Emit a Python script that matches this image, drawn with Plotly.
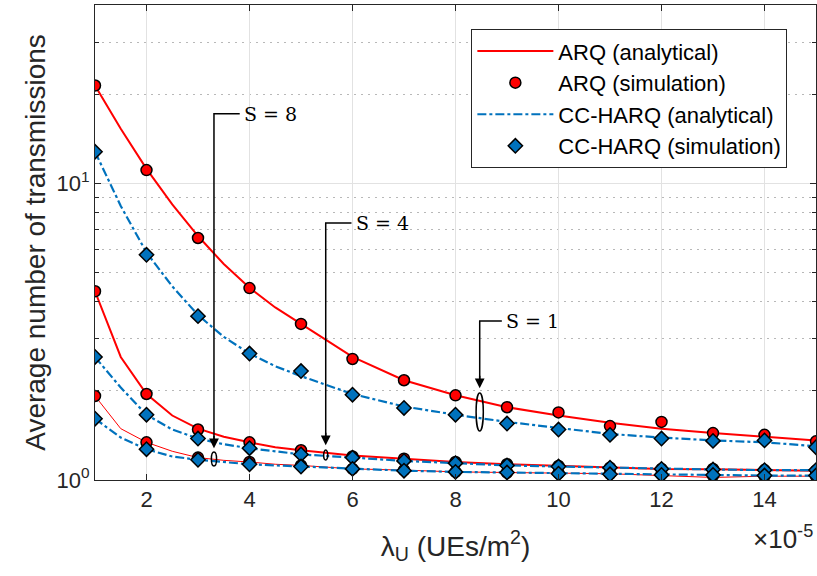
import numpy as np
import plotly.graph_objects as go

# ---------------- data ----------------
x_sim = [1, 2, 3, 4, 5, 6, 7, 8, 9, 10, 11, 12, 13, 14, 15]
x_ana = [1, 1.5, 2, 2.5, 3, 3.5, 4, 4.5, 5, 6, 7, 8, 9, 10, 11, 12, 13, 14, 15]

# ARQ analytical
arq_ana_s8 = [21.4, 15.3, 11.2, 8.5, 6.65, 5.35, 4.45, 3.82, 3.36, 2.6, 2.17, 1.93, 1.76, 1.65, 1.56, 1.49, 1.44, 1.40, 1.36]
arq_ana_s4 = [4.33, 2.6, 1.95, 1.65, 1.49, 1.40, 1.34, 1.29, 1.26, 1.21, 1.18, 1.15, 1.13, 1.115, 1.105, 1.09, 1.088, 1.083, 1.075]
arq_ana_s1 = [1.92, 1.49, 1.34, 1.25, 1.19, 1.165, 1.15, 1.13, 1.12, 1.09, 1.08, 1.065, 1.06, 1.053, 1.05, 1.035, 1.02, 1.03, 1.03]
# ARQ simulation
arq_sim_s8 = [21.4, 11.1, 6.55, 4.44, 3.36, 2.56, 2.17, 1.93, 1.76, 1.69, 1.52, 1.57, 1.44, 1.42, 1.35]
arq_sim_s4 = [4.33, 1.95, 1.48, 1.34, 1.26, 1.20, 1.18, 1.15, 1.13, 1.115, 1.10, 1.09, 1.09, 1.08, 1.075]
arq_sim_s1 = [1.92, 1.34, 1.19, 1.15, 1.12, 1.09, 1.08, 1.065, 1.06, 1.055, 1.05, 1.045, 1.035, 1.03, 1.03]

# CC-HARQ analytical
cc_ana_s8 = [12.8, 8.4, 5.85, 4.5, 3.6, 3.04, 2.67, 2.42, 2.24, 1.95, 1.77, 1.66, 1.57, 1.50, 1.43, 1.39, 1.36, 1.34, 1.30]
cc_ana_s4 = [2.60, 2.05, 1.66, 1.48, 1.38, 1.32, 1.28, 1.25, 1.22, 1.19, 1.16, 1.14, 1.12, 1.11, 1.10, 1.09, 1.085, 1.08, 1.08]
cc_ana_s1 = [1.61, 1.39, 1.27, 1.20, 1.17, 1.15, 1.13, 1.12, 1.11, 1.09, 1.075, 1.065, 1.06, 1.05, 1.045, 1.04, 1.04, 1.035, 1.035]
# CC-HARQ simulation
cc_sim_s8 = [12.8, 5.75, 3.57, 2.67, 2.33, 1.94, 1.75, 1.66, 1.55, 1.48, 1.42, 1.38, 1.355, 1.36, 1.29]
cc_sim_s4 = [2.60, 1.66, 1.38, 1.28, 1.22, 1.19, 1.16, 1.14, 1.12, 1.11, 1.10, 1.09, 1.085, 1.08, 1.08]
cc_sim_s1 = [1.61, 1.27, 1.17, 1.13, 1.11, 1.09, 1.075, 1.065, 1.06, 1.05, 1.045, 1.04, 1.04, 1.035, 1.035]

x_tickvals = [2, 4, 6, 8, 10, 12, 14]
y_tickvals = [1, 10]
y_ticktext = ["10<sup>0</sup>", "10<sup>1</sup>"]
y_minor = [2, 3, 4, 5, 6, 7, 8, 9, 20, 30]
Y_MAX = 40

# S labels: (text, x of vertical line, x of text, y top of elbow, arrow tip y, ellipse y-lo, y-hi, ellipse half width)
s_labels = [
    ("S = 8", 3.31, 3.86, 17.2, 1.28, 1.115, 1.243, 0.05),
    ("S = 4", 5.48, 6.03, 7.36, 1.31, 1.168, 1.262, 0.04),
    ("S = 1", 8.47, 8.95, 3.44, 2.04, 1.463, 1.965, 0.07),
]

RED = "#ff0000"
BLUE = "#0072bd"
AXC = "#262626"
FONT = "Liberation Sans, Arial, sans-serif"

fig = go.Figure()

# ARQ analytical
for i, (ys, w) in enumerate([(arq_ana_s8, 2), (arq_ana_s4, 2), (arq_ana_s1, 1)]):
    fig.add_trace(go.Scatter(x=x_ana, y=ys, mode="lines", line=dict(color=RED, width=w),
                             name="ARQ (analytical)", legendgroup="g1", showlegend=(i == 0),
                             legendrank=1))
# CC-HARQ analytical
for i, ys in enumerate([cc_ana_s8, cc_ana_s4, cc_ana_s1]):
    fig.add_trace(go.Scatter(x=x_ana, y=ys, mode="lines",
                             line=dict(color=BLUE, width=2.2, dash="dashdot"),
                             name="CC-HARQ (analytical)", legendgroup="g3", showlegend=(i == 0),
                             legendrank=3))
# ARQ simulation
for i, ys in enumerate([arq_sim_s8, arq_sim_s4, arq_sim_s1]):
    fig.add_trace(go.Scatter(x=x_sim, y=ys, mode="markers",
                             marker=dict(symbol="circle", size=11, color=RED,
                                         line=dict(color="black", width=1.5)),
                             name="ARQ (simulation)", legendgroup="g2", showlegend=(i == 0),
                             legendrank=2))
# CC-HARQ simulation
for i, ys in enumerate([cc_sim_s8, cc_sim_s4, cc_sim_s1]):
    fig.add_trace(go.Scatter(x=x_sim, y=ys, mode="markers",
                             marker=dict(symbol="diamond", size=11, color=BLUE,
                                         line=dict(color="black", width=1.5)),
                             name="CC-HARQ (simulation)", legendgroup="g4", showlegend=(i == 0),
                             legendrank=4))

# S annotations
lmax = np.log10(Y_MAX)
for (txt, xa, xt, ytop, ytip, elo, ehi, ew) in s_labels:
    fig.add_trace(go.Scatter(x=[xt - 0.05, xa, xa], y=[ytop, ytop, ytip * 1.03], mode="lines",
                             line=dict(color="black", width=1.5), showlegend=False,
                             hoverinfo="skip"))
    fig.add_annotation(x=xa, y=np.log10(ytip), xref="x", yref="y",
                       ax=0, ay=-14, axref="pixel", ayref="pixel", text="",
                       showarrow=True, arrowhead=2, arrowsize=1.3, arrowwidth=1.5,
                       arrowcolor="black")
    fig.add_annotation(x=xt, y=np.log10(ytop), xref="x", yref="y", text=txt,
                       showarrow=False, xanchor="left", yanchor="middle",
                       font=dict(family="DejaVu Serif, Liberation Serif, serif", size=19,
                                 color="black"))
    fig.add_shape(type="circle", xref="x", yref="paper",
                  x0=xa - ew, x1=xa + ew,
                  y0=np.log10(elo) / lmax, y1=np.log10(ehi) / lmax,
                  line=dict(color="black", width=1.5), fillcolor="rgba(0,0,0,0)")

# x10^-5 label
fig.add_annotation(x=0.999, y=-0.082, xref="paper", yref="paper",
                   text="\u00d710<sup>-5</sup>", showarrow=False,
                   xanchor="right", yanchor="top",
                   font=dict(family=FONT, size=26, color=AXC))

fig.update_layout(
    width=817, height=576,
    margin=dict(l=95, r=1, t=5, b=96),
    paper_bgcolor="white", plot_bgcolor="white",
    font=dict(family=FONT, size=22, color=AXC),
    legend=dict(x=0.522, y=0.949, xanchor="left", yanchor="top",
                bgcolor="white", bordercolor=AXC, borderwidth=1,
                font=dict(family=FONT, size=22, color="black"),
                tracegroupgap=0, itemwidth=76, traceorder="grouped"),
    xaxis=dict(range=[1, 15], tickvals=x_tickvals, ticks="inside", ticklen=6,
               tickcolor=AXC, showline=True, linecolor=AXC, linewidth=1, mirror="allticks",
               showgrid=True, gridcolor="#e2e2e2", gridwidth=1, zeroline=False,
               automargin=False,
               tickfont=dict(size=22, color=AXC),
               title=dict(text="\u03bb<sub>U</sub> (UEs/m<sup>2</sup>)",
                          font=dict(size=28, color=AXC), standoff=24)),
    yaxis=dict(type="log", range=[0, lmax], tickvals=y_tickvals, ticktext=y_ticktext,
               ticks="inside", ticklen=6, tickcolor=AXC, showline=True, linecolor=AXC,
               linewidth=1, mirror="allticks", showgrid=True, gridcolor="#e2e2e2",
               zeroline=False, automargin=False, tickfont=dict(size=22, color=AXC),
               minor=dict(tickvals=y_minor, ticks="inside", ticklen=4, tickcolor=AXC,
                          showgrid=True, griddash="2px,5px", gridcolor="#b8b8b8", gridwidth=1),
               title=dict(text="Average number of transmissions",
                          font=dict(size=28, color=AXC), standoff=2)),
)

fig.write_html("out.html", config={"displayModeBar": False},
               post_script="document.body.style.margin='0px';document.body.style.overflow='hidden';")
